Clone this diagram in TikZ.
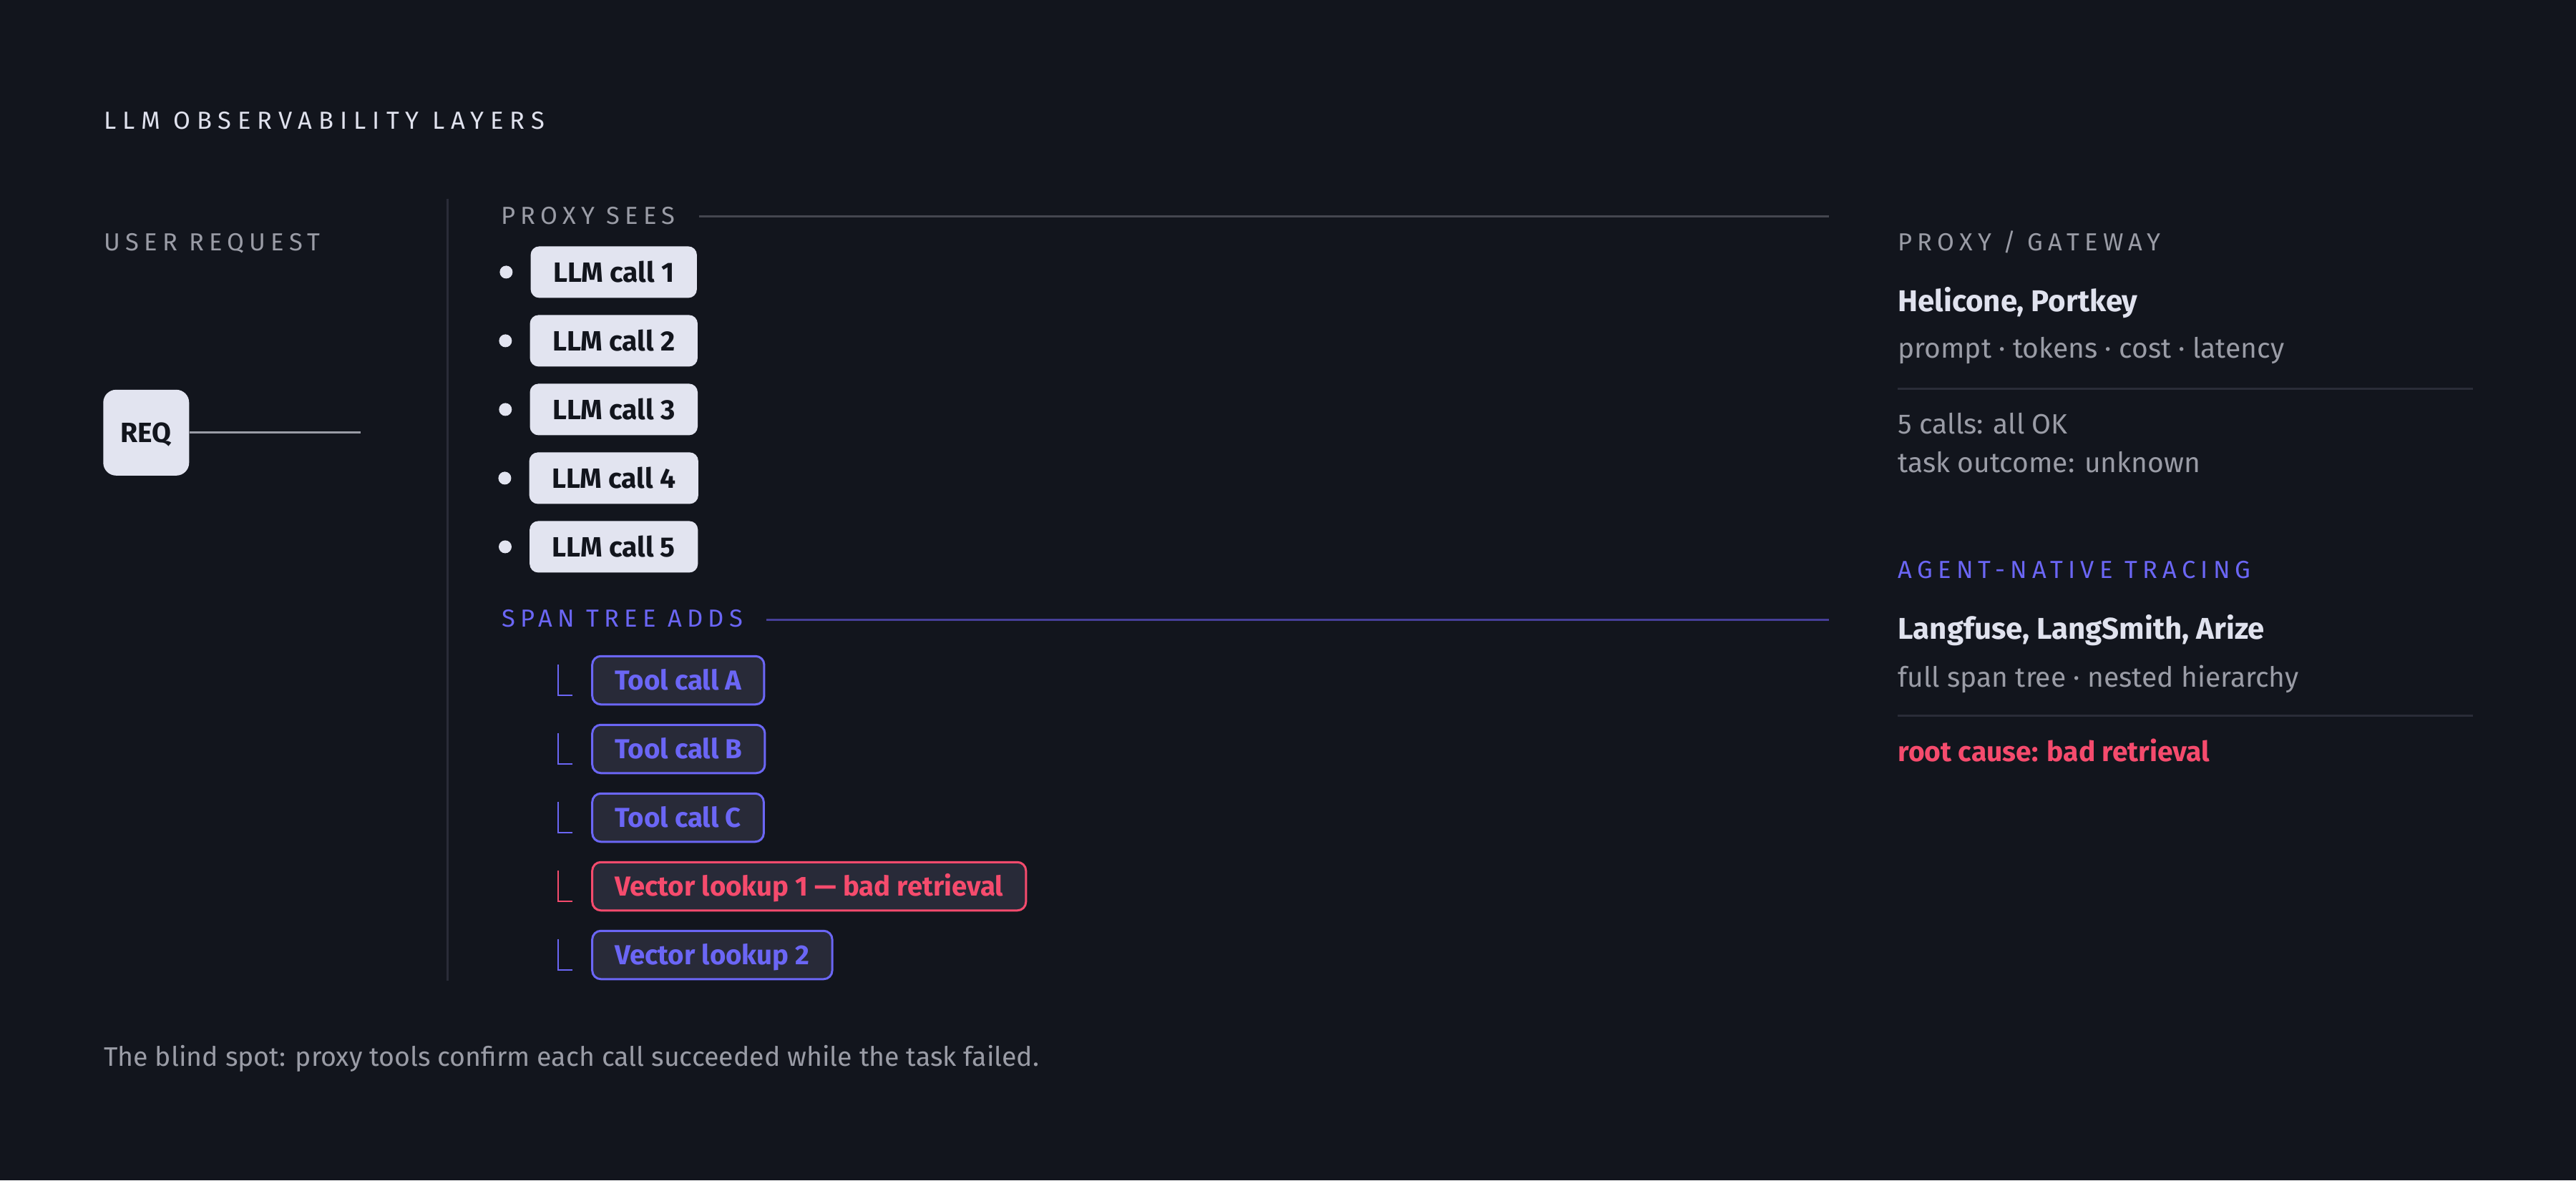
\documentclass[tikz,border=0pt]{standalone}
\usepackage{fontspec}
\setmainfont{Fira Sans}
\newfontfamily\trackfont[LetterSpace=21]{Fira Sans}
\newfontfamily\titletrack[LetterSpace=26]{Fira Sans}
\usetikzlibrary{positioning}

\definecolor{bgdark}{HTML}{12151D}
\definecolor{boxlight}{HTML}{E2E4F0}
\definecolor{boxdark}{HTML}{282A38}
\definecolor{labelgray}{HTML}{9A9CA6}
\definecolor{titlewhite}{HTML}{E0E2EE}
\definecolor{spanpurple}{HTML}{6B66F5}
\definecolor{badred}{HTML}{F54B6D}
\definecolor{rulegray}{HTML}{44464F}
\definecolor{rulepurple}{HTML}{463F98}
\definecolor{divgray}{HTML}{2A2C38}

\tikzset{
  caption/.style={anchor=base west, inner sep=0pt, text=labelgray, font=\trackfont\fontsize{11.5}{13}\selectfont},
  heading/.style={anchor=base west, inner sep=0pt, text=titlewhite, font=\bfseries\fontsize{14}{16}\selectfont},
  bodytext/.style={anchor=base west, inner sep=0pt, text=labelgray, font=\fontsize{13}{15}\selectfont},
  callbox/.style={rectangle, rounded corners=4pt, fill=boxlight, text=bgdark, minimum height=24pt,
    inner xsep=10.5pt, text height=9.2pt, text depth=0pt, font=\bfseries\fontsize{13}{15}\selectfont},
  spanbox/.style={callbox, draw=spanpurple, line width=1pt, fill=boxdark, text=spanpurple, minimum height=22.5pt,
    font=\bfseries\fontsize{12.8}{15}\selectfont},
  badbox/.style={spanbox, draw=badred, text=badred},
  dot/.style={circle, fill=boxlight, inner sep=0pt, minimum size=6pt},
  treeline/.style={draw=spanpurple, line width=0.7pt},
}

\begin{document}
\begin{tikzpicture}[x=1pt, y=-1pt]
\fill[bgdark] (0,0) rectangle (1200,550);
\useasboundingbox (0,0) rectangle (1200,550);

% titles
\draw (48.3,60) node[caption, text=titlewhite, font=\titletrack\fontsize{11.5}{13}\selectfont] (title) {LLM OBSERVABILITY LAYERS};
\draw (48.3,116.7) node[caption] (usr) {USER REQUEST};

% request
\draw (68.1,201.6) node[callbox, minimum width=40pt, minimum height=40pt, rounded corners=6pt, inner xsep=0pt] (req) {REQ};
\coordinate (reqend) at (168,201.6);
\draw[labelgray, line width=1pt] (req.east) -- (reqend);

% divider
\draw[divgray, line width=1pt] (208.4,92.7) -- (208.4,457);

% what the proxy sees
\draw (233.3,104.4) node[caption] (ps) {PROXY SEES};
\draw[rulegray, line width=1pt] (325.7,100.8) -- (852,100.8);
\draw (247,126.8) node[callbox, anchor=west] (c1) {LLM call 1};
\draw node[callbox, below=7.6pt of c1] (c2) {LLM call 2};
\draw node[callbox, below=7.6pt of c2] (c3) {LLM call 3};
\draw node[callbox, below=7.6pt of c3] (c4) {LLM call 4};
\draw node[callbox, below=7.6pt of c4] (c5) {LLM call 5};
\node[dot, left=8pt of c1] (d1) {};
\node[dot, left=8pt of c2] (d2) {};
\node[dot, left=8pt of c3] (d3) {};
\node[dot, left=8pt of c4] (d4) {};
\node[dot, left=8pt of c5] (d5) {};

% what the span tree adds
\draw (233.5,292) node[caption, text=spanpurple] (st) {SPAN TREE ADDS};
\draw[rulepurple, line width=1pt] (357,288.7) -- (852,288.7);
\draw (275.4,317) node[spanbox, anchor=west] (ta) {Tool call A};
\draw node[spanbox, below=8.5pt of ta.south west, anchor=north west] (tb) {Tool call B};
\draw node[spanbox, below=8.5pt of tb.south west, anchor=north west] (tc) {Tool call C};
\draw node[badbox, below=8.5pt of tc.south west, anchor=north west] (v1) {Vector lookup 1 — bad retrieval};
\draw node[spanbox, below=8.5pt of v1.south west, anchor=north west] (v2) {Vector lookup 2};
\draw[treeline] ([xshift=-15.4pt,yshift=7.5pt]ta.west) |- ([xshift=-8.7pt,yshift=-7pt]ta.west);
\draw[treeline] ([xshift=-15.4pt,yshift=7.5pt]tb.west) |- ([xshift=-8.7pt,yshift=-7pt]tb.west);
\draw[treeline] ([xshift=-15.4pt,yshift=7.5pt]tc.west) |- ([xshift=-8.7pt,yshift=-7pt]tc.west);
\draw[treeline, draw=badred] ([xshift=-15.4pt,yshift=7.5pt]v1.west) |- ([xshift=-8.7pt,yshift=-7pt]v1.west);
\draw[treeline] ([xshift=-15.4pt,yshift=7.5pt]v2.west) |- ([xshift=-8.7pt,yshift=-7pt]v2.west);

% right column: proxy
\draw (884,116.7) node[caption] (pg) {PROXY / GATEWAY};
\draw (884,145.3) node[heading] (pgtools) {Helicone, Portkey};
\draw (884,166.9) node[bodytext] (pgsees) {prompt · tokens · cost · latency};
\draw[divgray, line width=1pt] (884,181) -- (1152,181);
\draw (884,202) node[bodytext] (pgcalls) {5 calls: all OK};
\draw (884,220) node[bodytext] (pgtask) {task outcome: unknown};

% right column: agent tracing
\draw (884,269.4) node[caption, text=spanpurple] (at) {AGENT-NATIVE TRACING};
\draw (884,297.8) node[heading] (attools) {Langfuse, LangSmith, Arize};
\draw (884,320) node[bodytext] (atsees) {full span tree · nested hierarchy};
\draw[divgray, line width=1pt] (884,333.6) -- (1152,333.6);
\draw (884,354.7) node[bodytext, text=badred, font=\bfseries\fontsize{13}{15}\selectfont] (atcause) {root cause: bad retrieval};

% footer
\draw (48.2,496.7) node[bodytext, font=\fontsize{12.5}{14}\selectfont] (foot) {The blind spot: proxy tools confirm each call succeeded while the task failed.};
\end{tikzpicture}
\end{document}
